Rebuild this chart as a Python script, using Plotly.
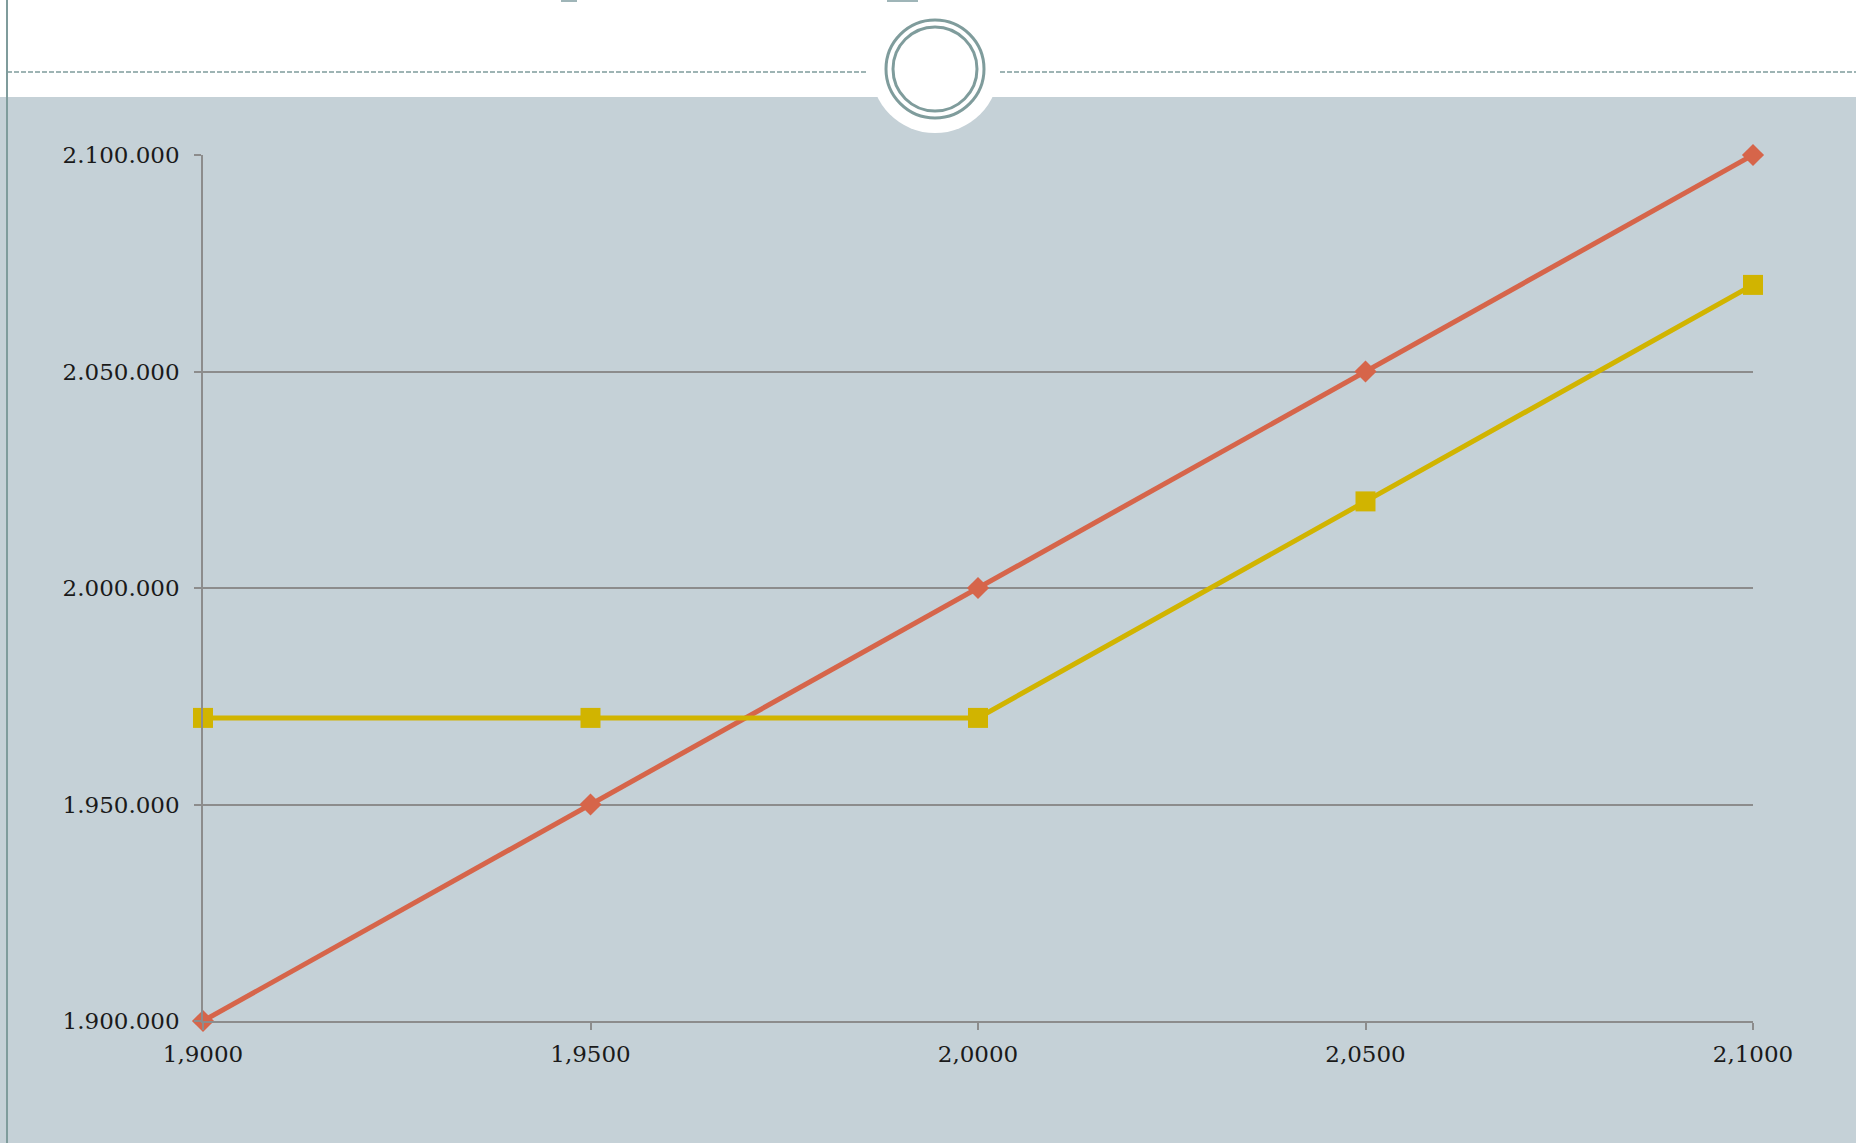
import plotly.graph_objects as go

W, H = 1856, 1143

x_vals = [1.90, 1.95, 2.00, 2.05, 2.10]
series_red = [1900000, 1950000, 2000000, 2050000, 2100000]
series_yellow = [1970000, 1970000, 1970000, 2020000, 2070000]
y_ticks = [1900000, 1950000, 2000000, 2050000, 2100000]

RED = "#d6654a"
YEL = "#d1b400"
TEAL = "#7f9c9c"
BG = "#c5d1d7"
GRID = "#8c8c8c"

def px(x):
    return x / W

def py(y):
    return 1 - y / H

fig = go.Figure()
fig.add_trace(go.Scatter(
    x=x_vals, y=series_red, mode="lines+markers",
    line=dict(color=RED, width=5),
    marker=dict(symbol="diamond", size=17, color=RED),
    cliponaxis=False, showlegend=False))
fig.add_trace(go.Scatter(
    x=x_vals, y=series_yellow, mode="lines+markers",
    line=dict(color=YEL, width=5),
    marker=dict(symbol="square", size=20, color=YEL),
    cliponaxis=False, showlegend=False))

shapes = []
# background panel
shapes.append(dict(type="rect", xref="paper", yref="paper", x0=0, x1=1, y0=0, y1=py(97),
                   fillcolor=BG, line=dict(width=0), layer="below"))
# dashed line
shapes.append(dict(type="line", xref="paper", yref="paper", x0=px(7), x1=px(868), y0=py(72), y1=py(72),
                   line=dict(color=TEAL, width=1.5, dash="5px,2px"), layer="below"))
shapes.append(dict(type="line", xref="paper", yref="paper", x0=px(1000), x1=1, y0=py(72), y1=py(72),
                   line=dict(color=TEAL, width=1.5, dash="5px,2px"), layer="below"))
# left vertical line
shapes.append(dict(type="line", xref="paper", yref="paper", x0=px(7), x1=px(7), y0=0, y1=1,
                   line=dict(color=TEAL, width=2), layer="below"))
# circle decoration
cx, cy = 935, 69
for r, fill, lw in [(64, "white", 0), (49, None, 3), (42, None, 3)]:
    d = dict(type="circle", xref="paper", yref="paper",
             x0=px(cx - r), x1=px(cx + r), y0=py(cy + r), y1=py(cy - r), layer="below")
    if fill:
        d["fillcolor"] = fill
        d["line"] = dict(width=0)
    else:
        d["line"] = dict(color=TEAL, width=lw)
    shapes.append(d)
# tiny title fragments at the top edge
shapes.append(dict(type="rect", xref="paper", yref="paper", x0=px(561), x1=px(577), y0=py(2), y1=1,
                   fillcolor="#9fb5b8", line=dict(width=0), layer="below"))
shapes.append(dict(type="rect", xref="paper", yref="paper", x0=px(887), x1=px(918), y0=py(2), y1=1,
                   fillcolor="#9fb5b8", line=dict(width=0), layer="below"))

font = dict(family="DejaVu Serif", size=23, color="#1a1a1a")

fig.update_layout(
    width=W, height=H, autosize=False,
    margin=dict(l=0, r=0, t=0, b=0),
    paper_bgcolor="white", plot_bgcolor="rgba(0,0,0,0)",
    separators=",.",
    shapes=shapes,
    font=font,
    xaxis=dict(domain=[px(203), px(1753)], range=[1.9, 2.1], tickvals=x_vals,
               tickformat=".4f", showgrid=False, zeroline=False,
               showline=True, linecolor=GRID, linewidth=1.5,
               ticks="outside", ticklen=7, tickcolor=GRID, tickwidth=1.5,
               tickfont=font, ticklabelstandoff=5, automargin=False),
    yaxis=dict(domain=[py(1021), py(155)], range=[1900000, 2100000], tickvals=y_ticks,
               tickformat=",d", showgrid=True, gridcolor=GRID, gridwidth=1.5, zeroline=False,
               showline=True, linecolor=GRID, linewidth=1.5,
               ticks="outside", ticklen=7, tickcolor=GRID, tickwidth=1.5,
               tickfont=font, ticklabelstandoff=10, automargin=False),
)

fig.write_html("out.html")
